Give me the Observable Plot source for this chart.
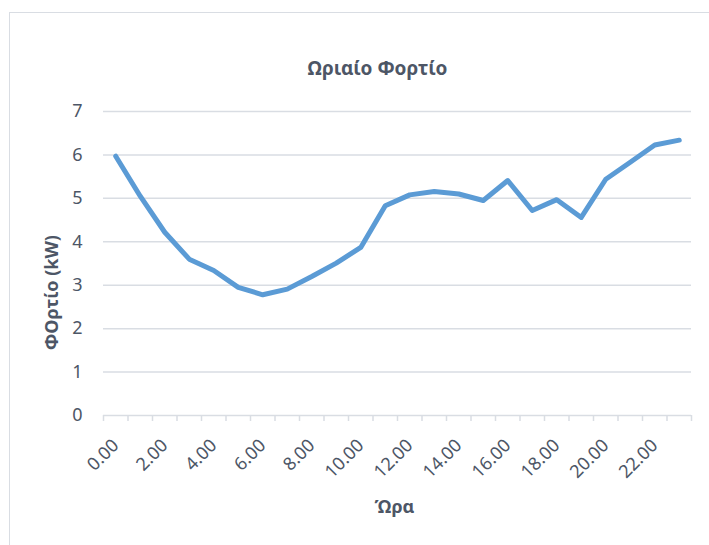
<!DOCTYPE html>
<html><head><meta charset="utf-8">
<script src="https://cdn.jsdelivr.net/npm/d3@7"></script>
<script src="https://cdn.jsdelivr.net/npm/@observablehq/plot@0.6"></script>
<style>
body{margin:0;background:#fff;}
#wrap{position:relative;width:709px;height:545px;overflow:hidden;}
#frame{position:absolute;left:9px;top:12px;width:740px;height:600px;border:1px solid #d9dde3;box-sizing:border-box;}
#chart{position:absolute;left:0;top:0;}
</style></head><body>
<div id="wrap"><div id="frame"></div><div id="chart"></div></div>
<script>
const title = "Ωριαίο Φορτίο";
const xLabel = "Ώρα";
const yLabel = "ΦΟρτίο (kW)";
const hours = [0,1,2,3,4,5,6,7,8,9,10,11,12,13,14,15,16,17,18,19,20,21,22,23];
const load = [5.97,5.05,4.22,3.60,3.34,2.95,2.78,2.91,3.20,3.51,3.87,4.83,5.08,5.16,5.10,4.95,5.41,4.72,4.97,4.56,5.44,5.83,6.23,6.34];
const tickHours = [0,2,4,6,8,10,12,14,16,18,20,22];
const tickLabels = ["0.00","2.00","4.00","6.00","8.00","10.00","12.00","14.00","16.00","18.00","20.00","22.00"];
const yTicks = [0,1,2,3,4,5,6,7];

const boundaries = hours.map(h => h - 0.5).concat([hours[hours.length-1] + 0.5]);
const data = hours.map((h,i) => ({hour:h, load:load[i]}));
const txt = "#4d5666";
const grid = "#d9dde3";

const chart = Plot.plot({
  width:709, height:545,
  marginLeft:103, marginRight:18, marginTop:111, marginBottom:130,
  style:{fontFamily:"'Noto Sans', 'Open Sans', sans-serif", fontSize:"18px", color:txt, background:"transparent", overflow:"visible"},
  x:{type:"linear", domain:[boundaries[0], boundaries[boundaries.length-1]]},
  y:{domain:[0,7]},
  marks:[
    Plot.gridY(yTicks, {stroke:grid, strokeOpacity:1, strokeWidth:1.5}),
    Plot.axisY(yTicks, {tickSize:0, tickPadding:21, label:null, fill:txt, fontSize:18}),
    Plot.axisX(boundaries, {tickSize:6, tickFormat:() => "", stroke:grid, strokeWidth:1.5, label:null}),
    Plot.axisX(tickHours, {tickSize:0, tickPadding:27, tickRotate:-45, fontSize:18, fill:txt,
      tickFormat: d => tickLabels[tickHours.indexOf(d)], label:null}),
    Plot.line(data, {x:"hour", y:"load", stroke:"#5b9bd5", strokeWidth:5, strokeLinejoin:"round", strokeLinecap:"round"}),
    Plot.text([title], {frameAnchor:"top", textAnchor:"middle", lineAnchor:"middle", dx:-20, dy:-43, fontWeight:"bold", fontSize:19, fill:txt}),
    Plot.text([xLabel], {frameAnchor:"bottom", textAnchor:"middle", lineAnchor:"middle", dx:-3, dy:92, fontWeight:"bold", fontSize:18, fill:txt}),
    Plot.text([yLabel], {frameAnchor:"left", textAnchor:"middle", lineAnchor:"middle", rotate:-90, dx:-51, dy:29, fontWeight:"bold", fontSize:18, fill:txt})
  ]
});
document.getElementById("chart").appendChild(chart);
</script>
</body></html>
